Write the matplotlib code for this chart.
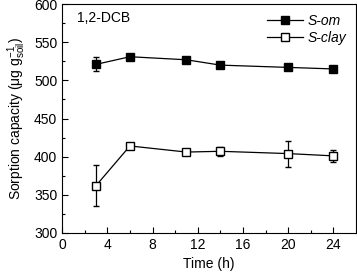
import matplotlib
matplotlib.use('Agg')
import matplotlib.pyplot as plt
from matplotlib.lines import Line2D
import numpy as np

plt.rcParams['font.family'] = ['Liberation Sans', 'DejaVu Sans']
plt.rcParams['font.size'] = 10
plt.rcParams['mathtext.fontset'] = 'custom'
plt.rcParams['mathtext.rm'] = 'Liberation Sans'

time = [3, 6, 11, 14, 20, 24]
s_om = [521, 531, 527, 520, 517, 515]
s_om_err = [9, 2, 2, 2, 2, 2]
s_clay = [362, 414, 406, 407, 404, 401]
s_clay_err = [27, 3, 3, 6, 17, 8]

fig = plt.figure(figsize=(3.57, 2.74), dpi=100)
ax = fig.add_axes([0.174, 0.150, 0.823, 0.835])

ax.errorbar(time, s_om, yerr=s_om_err, color='k', marker='s', ms=5.5, mfc='k',
            lw=0.9, capsize=2.5, elinewidth=0.9)
ax.errorbar(time, s_clay, yerr=s_clay_err, color='k', marker='s', ms=5.5, mfc='white',
            lw=0.9, capsize=2.5, elinewidth=0.9)

ax.set_xlim(0, 26)
ax.set_ylim(300, 600)
ax.set_xticks(np.arange(0, 25, 4))
ax.set_xticks(np.arange(2, 26, 4), minor=True)
ax.set_yticks(np.arange(300, 601, 50))
ax.set_yticks(np.arange(325, 600, 50), minor=True)
ax.tick_params(direction='in', top=False, right=False, length=4, width=0.8, labelsize=10)
ax.tick_params(which='minor', direction='in', length=2.5, width=0.8)
for s in ax.spines.values():
    s.set_linewidth(0.8)

ax.set_xlabel('Time (h)', fontsize=10)
ax.set_ylabel(r'Sorption capacity ($\mathrm{\mu}$g g$_{\mathrm{soil}}^{\mathrm{-1}}$)', fontsize=10)
ax.text(0.05, 0.94, '1,2-DCB', transform=ax.transAxes, ha='left', va='center', fontsize=10)

handles = [Line2D([], [], color='k', lw=0.9, marker='s', ms=5.5, mfc='k'),
           Line2D([], [], color='k', lw=0.9, marker='s', ms=5.5, mfc='white')]
ax.legend(handles, ['S-om', 'S-clay'], loc='upper right', frameon=False,
          prop={'style': 'italic', 'size': 10}, handlelength=2.6,
          handletextpad=0.3, borderaxespad=0.3, labelspacing=0.25)

fig.savefig('out.png', dpi=100)
